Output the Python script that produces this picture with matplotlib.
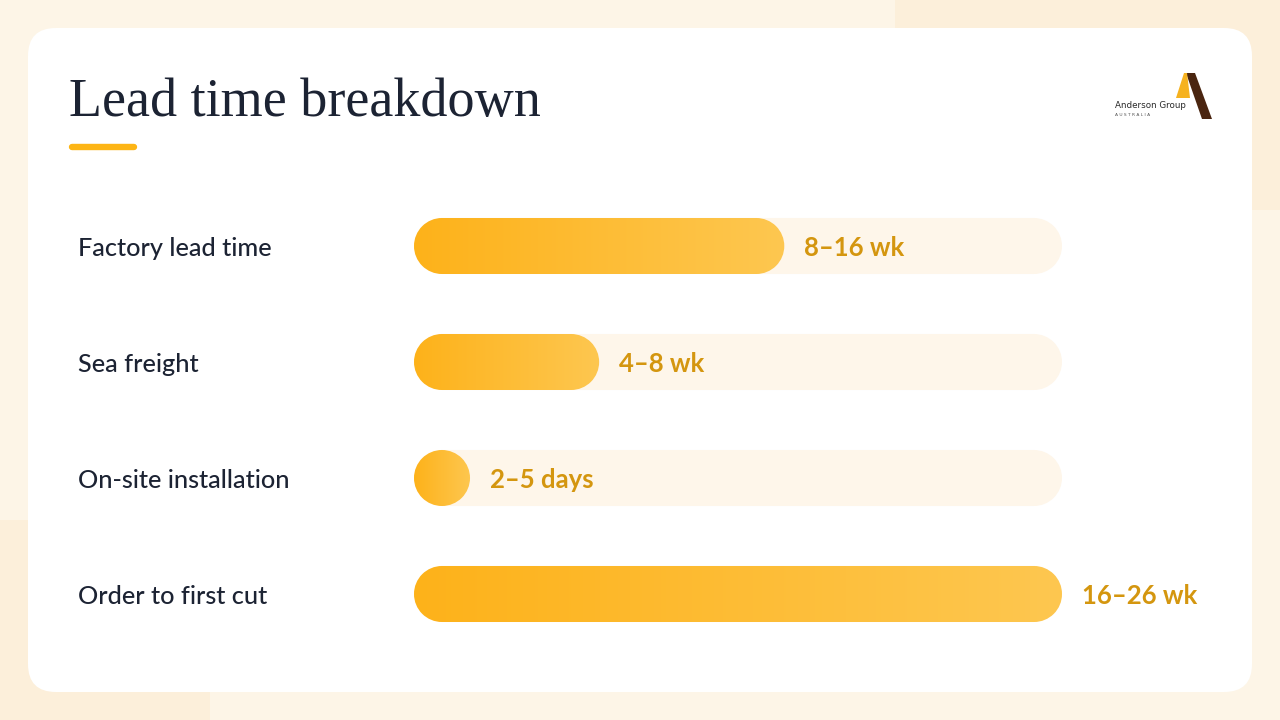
import numpy as np
import matplotlib
matplotlib.use("Agg")
import matplotlib.pyplot as plt
from matplotlib.patches import FancyBboxPatch, PathPatch, Polygon
from matplotlib.path import Path
import matplotlib.transforms as mtransforms

# ---------------- data ----------------
categories = ["Factory lead time", "Sea freight", "On-site installation", "Order to first cut"]
range_low_wk = [8, 4, 2 / 7, 16]
range_high_wk = [16, 8, 5 / 7, 26]
value_labels = ["8\u201316 wk", "4\u20138 wk", "2\u20135 days", "16\u201326 wk"]
title = "Lead time breakdown"

midpoints = [(lo + hi) / 2 for lo, hi in zip(range_low_wk, range_high_wk)]
max_mid = max(midpoints)

# ---------------- style ----------------
BG = "#FDF5E7"
BG_DARK = "#FCEFDA"
TRACK = "#FEF6EA"
GRAD_L = np.array([253, 178, 26]) / 255
GRAD_R = np.array([254, 199, 80]) / 255
VAL_COL = "#D4960F"
TXT_COL = "#1C2333"
ACCENT = "#FDB515"

W, H = 1280, 720
fig = plt.figure(figsize=(W / 100, H / 100), dpi=100)
fig.patch.set_facecolor(BG)

bg = fig.add_axes([0, 0, 1, 1])
bg.set_xlim(0, W)
bg.set_ylim(H, 0)
bg.axis("off")

# background blobs
bg.add_patch(FancyBboxPatch((895, -80), 500, 290, boxstyle="round,pad=0,rounding_size=40",
                            fc=BG_DARK, ec="none", zorder=0))
bg.add_patch(FancyBboxPatch((-80, 520), 290, 300, boxstyle="round,pad=0,rounding_size=60",
                            fc=BG_DARK, ec="none", zorder=0))

# white card
bg.add_patch(FancyBboxPatch((28, 28), 1224, 664, boxstyle="round,pad=0,rounding_size=28",
                            fc="white", ec="none", zorder=1))

# title + accent
bg.text(69, 116, title, fontsize=39, family="Liberation Serif", color=TXT_COL,
        ha="left", va="baseline", zorder=3)
bg.plot([72, 134], [147, 147], color=ACCENT, lw=4.6, solid_capstyle="round", zorder=3)

# logo
bg.add_patch(Polygon([[1186, 73], [1195, 73], [1212, 119], [1202, 119]], closed=True,
                     fc="#4A2510", ec="none", zorder=3))
bg.add_patch(Polygon([[1176, 98], [1184, 73], [1187, 73], [1190, 98]], closed=True,
                     fc="#F6B21F", ec="none", zorder=3))
bg.text(1115, 108, "Anderson Group", fontsize=6.3, family="DejaVu Sans", color="#2A2A2A",
        ha="left", va="baseline", zorder=3)
bg.text(1115, 116, "A U S T R A L I A", fontsize=3.2, family="DejaVu Sans", color="#555555",
        ha="left", va="baseline", zorder=3)

# ---------------- bars axes ----------------
ax = fig.add_axes([414 / W, (H - 652) / H, 648 / W, 464 / H])
ax.set_xlim(0, max_mid)
ax.set_ylim(len(categories) - 0.5, -0.5)
ax.axis("off")
ax.set_zorder(2)
ax.patch.set_alpha(0)

fig.canvas.draw()
p0 = ax.transData.transform((0, 0))
px_x = abs(ax.transData.transform((1, 0))[0] - p0[0])
px_y = abs(ax.transData.transform((0, 1))[1] - p0[1])
m = px_x / px_y

bar_h = 0.4828  # in row units


def stadium(x0, x1, yc, h):
    """Stadium (pill) path in data coords of ax."""
    r_y = h / 2
    r_x = r_y / m
    w = max(x1 - x0, 2 * r_x)
    x1 = x0 + w
    yc_p = yc / m
    r = r_x
    left = Path.arc(90, 270)
    right = Path.arc(-90, 90)
    lv = left.vertices * r + [x0 + r, yc_p]
    rv = right.vertices * r + [x1 - r, yc_p]
    verts = np.vstack([lv, rv, lv[:1]])
    codes = list(left.codes) + [Path.LINETO] + list(right.codes[1:]) + [Path.CLOSEPOLY]
    verts[:, 1] *= m
    return Path(verts, codes), x1


grad = np.linspace(0, 1, 256)[None, :, None]
grad_img = GRAD_L[None, None, :] * (1 - grad) + GRAD_R[None, None, :] * grad

label_tr = mtransforms.blended_transform_factory(bg.transData, ax.transData)
text_shift = mtransforms.ScaledTranslation(0, -2 / 100, fig.dpi_scale_trans)

for i, (cat, mid, lab) in enumerate(zip(categories, midpoints, value_labels)):
    # track
    tpath, _ = stadium(0, max_mid, i, bar_h)
    ax.add_patch(PathPatch(tpath, fc=TRACK, ec="none", zorder=1))
    # bar
    bpath, xend = stadium(0, mid, i, bar_h)
    clip = PathPatch(bpath, fc="none", ec="none", transform=ax.transData)
    ax.add_patch(clip)
    im = ax.imshow(grad_img, extent=(0, xend, i + bar_h / 2, i - bar_h / 2),
                   aspect="auto", interpolation="bilinear", zorder=2)
    im.set_clip_path(clip)
    # value label
    ax.annotate(lab, xy=(xend, i), xytext=(14.4, -1.5), textcoords="offset points",
                ha="left", va="center", fontsize=18.5, fontweight="bold",
                family="Lato", color=VAL_COL, zorder=3)
    # category label
    ax.text(78, i, cat, transform=label_tr + text_shift, ha="left", va="center",
            fontsize=18.2, family="Lato", fontweight="medium", color=TXT_COL, zorder=3)

ax.set_xlim(0, max_mid)
ax.set_ylim(len(categories) - 0.5, -0.5)

fig.savefig("out.png", dpi=100, facecolor=fig.get_facecolor())
